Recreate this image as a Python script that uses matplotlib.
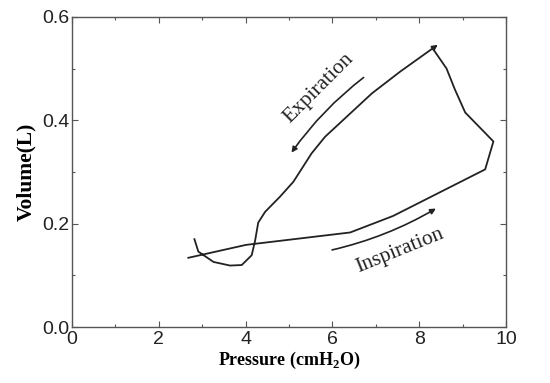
import matplotlib
matplotlib.use("Agg")
import matplotlib.pyplot as plt
from matplotlib.patches import FancyArrowPatch
from matplotlib.ticker import MultipleLocator

# P-V loop
pressure = [2.68, 4.01, 6.41, 7.40, 9.52, 9.71, 9.06, 8.82, 8.63, 8.31,
            7.56, 6.91, 6.37, 5.83, 5.52, 5.10, 4.79, 4.45, 4.29, 4.22,
            4.14, 3.91, 3.64, 3.26, 2.91, 2.82]
volume = [0.134, 0.159, 0.183, 0.215, 0.305, 0.359, 0.415, 0.460, 0.500, 0.539,
          0.494, 0.452, 0.410, 0.368, 0.336, 0.281, 0.252, 0.223, 0.202, 0.168,
          0.139, 0.120, 0.119, 0.126, 0.146, 0.170]

exp_arrow = [(6.77, 0.486), (5.02, 0.333)]
insp_arrow = [(5.93, 0.148), (8.44, 0.232)]
peak_arrow = [(8.31, 0.539), (8.48, 0.549)]

plt.rcParams['font.family'] = ['Liberation Sans', 'DejaVu Sans']
plt.rcParams['mathtext.fontset'] = 'custom'
plt.rcParams['mathtext.bf'] = 'Liberation Serif:bold'

fig = plt.figure(figsize=(5.5, 3.83), dpi=100)
ax = fig.add_axes([0.131, 0.146, 0.789, 0.81])

ax.plot(pressure, volume, color='#222222', lw=1.3)

ax.add_patch(FancyArrowPatch(exp_arrow[0], exp_arrow[1], arrowstyle='-|>', mutation_scale=8,
                             connectionstyle='arc3,rad=0.08', color='#222222', lw=1.2))
ax.add_patch(FancyArrowPatch(insp_arrow[0], insp_arrow[1], arrowstyle='-|>', mutation_scale=8,
                             connectionstyle='arc3,rad=0.08', color='#222222', lw=1.2))
ax.add_patch(FancyArrowPatch(peak_arrow[0], peak_arrow[1], arrowstyle='-|>', mutation_scale=8,
                             color='#222222', lw=1.2))

ax.text(5.68, 0.462, 'Expiration', rotation=45, ha='center', va='center',
        family='Liberation Serif', fontsize=15.5, color='#222222')
ax.text(7.56, 0.148, 'Inspiration', rotation=22, ha='center', va='center',
        family='Liberation Serif', fontsize=15.5, color='#222222')

ax.set_xlim(0, 10)
ax.set_ylim(0, 0.6)
ax.xaxis.set_major_locator(MultipleLocator(2))
ax.xaxis.set_minor_locator(MultipleLocator(1))
ax.yaxis.set_major_locator(MultipleLocator(0.2))
ax.yaxis.set_minor_locator(MultipleLocator(0.1))
ax.tick_params(which='both', direction='in', top=True, right=True, colors='#555555',
               labelcolor='#222222', labelsize=14)
ax.tick_params(which='major', length=4, width=0.8)
ax.tick_params(which='minor', length=2, width=0.8)
ax.tick_params(axis='y', pad=2)
ax.tick_params(axis='x', pad=3)
for s in ax.spines.values():
    s.set_color('#555555')
    s.set_linewidth(1.0)

ax.set_xlabel('Pressure (cmH$_\\mathbf{2}$O)', family='Liberation Serif', fontweight='bold',
              fontsize=13, labelpad=1)
ax.set_ylabel('Volume(L)', family='Liberation Serif', fontweight='bold', fontsize=15.5, labelpad=4)

fig.savefig('out.png', dpi=100)
